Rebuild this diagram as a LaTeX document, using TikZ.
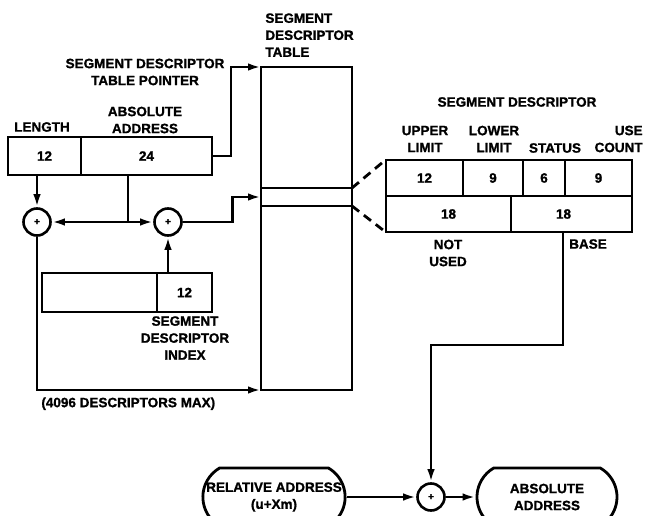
\documentclass[tikz,border=0pt]{standalone}
\usepackage{fontspec}
\setmainfont{Liberation Sans}[BoldFeatures={FakeBold=1.2}]
\usetikzlibrary{positioning, arrows.meta, shapes.misc}

\begin{document}
\begin{tikzpicture}[
    x=1pt, y=-1pt,
    line width=2.8pt,
    txt/.style={font=\bfseries\fontsize{13.5}{17}\selectfont},
    field/.style={draw, txt, inner sep=0pt, outer sep=0pt},
    adder/.style={draw, circle, minimum size=27pt, inner sep=0pt, line width=2.6pt,
                  font=\bfseries\fontsize{10}{10}\selectfont},
    term/.style={draw, txt, rounded rectangle, rounded rectangle arc length=120,
                 minimum height=58pt, inner sep=0pt, align=center},
    lbl/.style={txt, align=center, inner sep=0pt},
    arrow/.style={-{Latex[length=13pt, width=7.5pt]}},
]
\useasboundingbox (0,0) rectangle (645,516);

% segment descriptor table register
\node[field, minimum width=73pt, minimum height=38pt] (len) at (44.5,156) {12};
\node[field, minimum width=131pt, minimum height=38pt] (absaddr) at (146.5,156) {24};
\node[lbl] (lenlbl) at (42,127) {LENGTH};
\node[lbl] (abslbl) at (145,120) {ABSOLUTE\\ADDRESS};
\node[lbl] (ptrlbl) at (145,72) {SEGMENT DESCRIPTOR\\TABLE POINTER};

% descriptor table
\node[field, minimum width=91pt, minimum height=323pt] (table) at (306.5,228.5) {};
\node[field, minimum width=91pt, minimum height=18pt] (entry) at (306.5,197) {};
\node[lbl, align=left, anchor=north west] (tablelbl) at (264,12) {SEGMENT\\DESCRIPTOR\\TABLE};

% adders
\node[adder] (sum1) at (37,222) {+};
\node[adder] (sum2) at (168,222) {+};
\coordinate (split) at (128,222);

% segment descriptor index register
\node[field, minimum width=115pt, minimum height=39pt] (idxhi) at (99.5,292.5) {};
\node[field, minimum width=55pt, minimum height=39pt] (idxval) at (184.5,292.5) {12};
\node[lbl] (idxlbl) at (185,338) {SEGMENT\\DESCRIPTOR\\INDEX};
\node[lbl, anchor=north west] (maxlbl) at (40,396) {(4096 DESCRIPTORS MAX)};

% segment descriptor
\node[field, minimum width=77pt, minimum height=36pt] (upper) at (424.5,178) {12};
\node[field, minimum width=60pt, minimum height=36pt] (lower) at (493,178) {9};
\node[field, minimum width=42pt, minimum height=36pt] (status) at (544,178) {6};
\node[field, minimum width=67pt, minimum height=36pt] (usecnt) at (598.5,178) {9};
\node[field, minimum width=125pt, minimum height=36pt] (notused) at (448.5,214) {18};
\node[field, minimum width=121pt, minimum height=36pt] (base) at (571.5,214) {\hspace*{-16pt}18};
\node[lbl] (desclbl) at (517,102) {SEGMENT DESCRIPTOR};
\node[lbl] (upperlbl) at (425,139) {UPPER\\LIMIT};
\node[lbl] (lowerlbl) at (494,139) {LOWER\\LIMIT};
\node[lbl] (statuslbl) at (555,148) {STATUS};
\node[lbl, align=right, anchor=east] (uselbl) at (644,139) {USE\\COUNT};
\node[lbl] (notusedlbl) at (448,253) {NOT\\USED};
\node[lbl] (baselbl) at (588,244) {BASE};

% final address
\node[adder] (sum3) at (431,497) {+};
\node[term, minimum width=142pt] (rel) at (274,497) {RELATIVE ADDRESS\\(u+Xm)};
\node[term, minimum width=140pt] (absout) at (547,497) {ABSOLUTE\\ADDRESS};

% connectors
\draw[arrow] (absaddr.east) -- ++(19,0) |- (table.north west);
\draw[arrow] (sum1 |- len.south) -- (sum1.north);
\draw (split |- absaddr.south) -- (split);
\draw[arrow] (split) -- (sum1.east);
\draw[arrow] (split) -- (sum2.west);
\draw[arrow] (sum2 |- idxval.north) -- (sum2.south);
\draw[arrow] (sum2.east) -- ++(50,0) |- (entry.west);
\draw[arrow] (sum1.south) |- (table.south west);
\draw[dashed, dash pattern=on 9pt off 6pt] (entry.north east) -- ([xshift=-3pt, yshift=-2pt]upper.north west);
\draw[dashed, dash pattern=on 9pt off 6pt] (entry.south east) -- ([xshift=-3pt, yshift=2pt]notused.south west);
\draw[arrow] ([xshift=-8.5pt]base.south) -- ++(0,113) -| (sum3.north);
\draw[arrow] (rel.east) -- (sum3.west);
\draw[arrow] (sum3.east) -- (absout.west);

\end{tikzpicture}
\end{document}
